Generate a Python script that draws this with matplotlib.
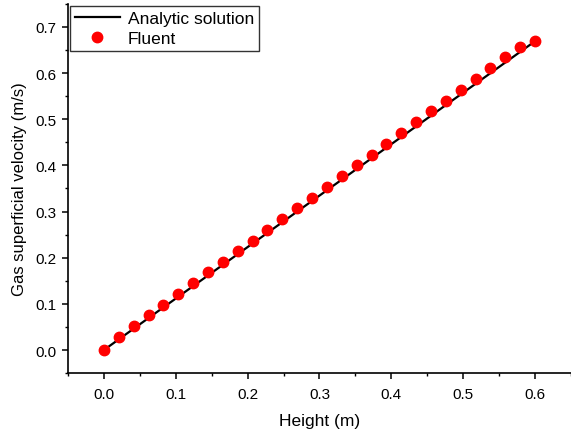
import matplotlib.pyplot as plt
from matplotlib.ticker import MultipleLocator

plt.rcParams['font.family'] = ['Liberation Sans', 'DejaVu Sans']

# Fluent simulation points (height in m, gas superficial velocity in m/s)
height = [0.0, 0.0207, 0.0414, 0.0621, 0.0828, 0.1034, 0.1241, 0.1448, 0.1655,
          0.1862, 0.2069, 0.2276, 0.2483, 0.2690, 0.2897, 0.3103, 0.3310,
          0.3517, 0.3724, 0.3931, 0.4138, 0.4345, 0.4552, 0.4759, 0.4966,
          0.5172, 0.5379, 0.5586, 0.5793, 0.6]
fluent = [0.0, 0.029, 0.052, 0.075, 0.098, 0.121, 0.145, 0.168, 0.191,
          0.214, 0.237, 0.261, 0.284, 0.307, 0.330, 0.354, 0.377,
          0.400, 0.423, 0.447, 0.470, 0.493, 0.517, 0.540, 0.563,
          0.587, 0.610, 0.634, 0.657, 0.669]

# Analytic solution
height_analytic = [0.0, 0.6]
analytic = [0.0, 0.669]

fig = plt.figure(figsize=(5.71, 4.35), dpi=100)
ax = fig.add_axes([0.119, 0.140, 0.881, 0.849])

ax.plot(height_analytic, analytic, color='black', linewidth=1.6, label='Analytic solution')
ax.plot(height, fluent, linestyle='none', marker='o', markersize=7.5,
        color='#ff0000', markeredgecolor='#ff0000', label='Fluent')

ax.set_xlim(-0.05, 0.65)
ax.set_ylim(-0.05, 0.75)
ax.xaxis.set_major_locator(MultipleLocator(0.1))
ax.xaxis.set_minor_locator(MultipleLocator(0.05))
ax.yaxis.set_major_locator(MultipleLocator(0.1))
ax.yaxis.set_minor_locator(MultipleLocator(0.05))
ax.xaxis.set_major_formatter(plt.FormatStrFormatter('%.1f'))
ax.yaxis.set_major_formatter(plt.FormatStrFormatter('%.1f'))

for side in ['top', 'right']:
    ax.spines[side].set_visible(False)
for side in ['left', 'bottom']:
    ax.spines[side].set_linewidth(1.2)

ax.tick_params(which='major', direction='out', length=4, width=1.1, labelsize=11)
ax.tick_params(which='minor', direction='out', length=2.5, width=1.0)
ax.tick_params(axis='x', which='major', pad=6)
ax.tick_params(axis='y', which='major', pad=4)

ax.set_xlabel('Height (m)', fontsize=12.5, labelpad=9)
ax.set_ylabel('Gas superficial velocity (m/s)', fontsize=12, labelpad=6)

leg = ax.legend(loc='upper left', fontsize=12.5, frameon=True, fancybox=False,
                edgecolor='black', borderaxespad=0.1, handlelength=2.6,
                borderpad=0.3, labelspacing=0.3, handletextpad=0.45)
leg.get_frame().set_linewidth(1.0)

plt.savefig('out.png', dpi=100)
